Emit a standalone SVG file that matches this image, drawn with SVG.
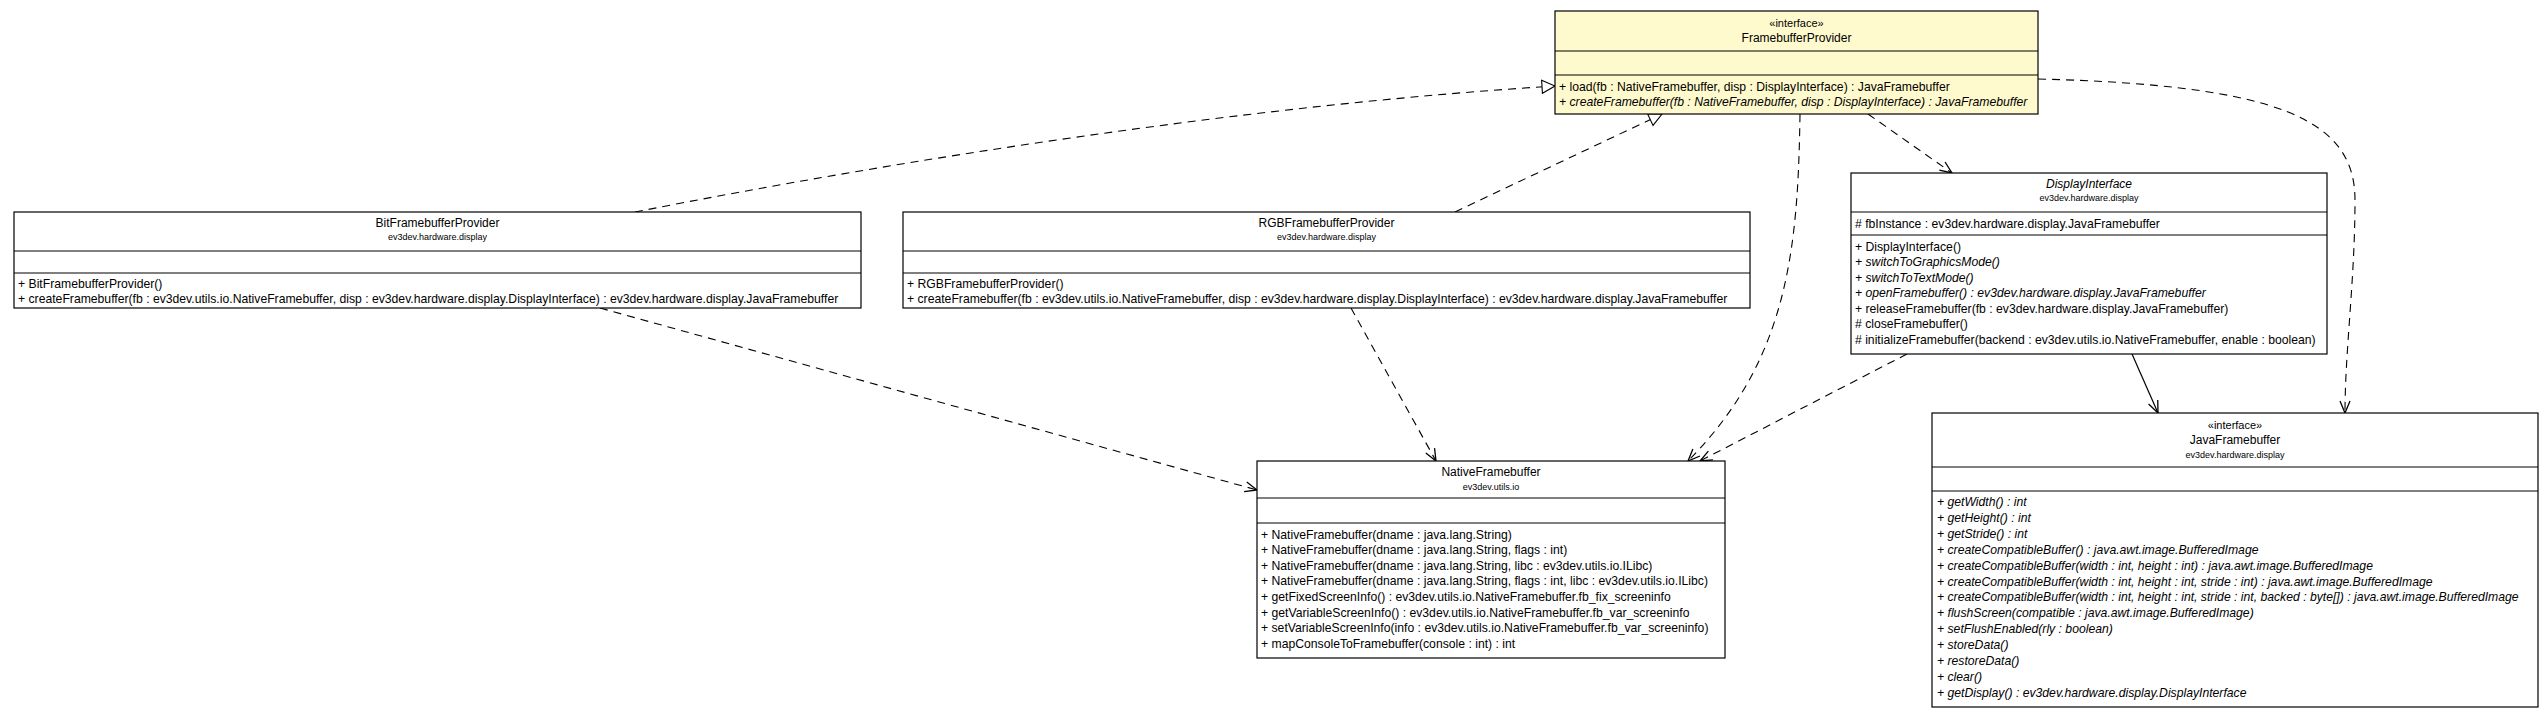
<svg xmlns="http://www.w3.org/2000/svg" width="2543" height="717" viewBox="0 0 2543 717">
<style>
.box{fill:#fff;stroke:#000;stroke-width:1.2}
.fp{fill:#FFFACD}
.sep{stroke:#000;stroke-width:1.2}
text{font-family:"Liberation Sans",Arial,sans-serif;fill:#000}
.nm{font-size:12px;text-anchor:middle}
.pk{font-size:9px;text-anchor:middle}
.st{font-size:11px;text-anchor:middle}
.m{font-size:12.2px}
.i{font-style:italic}
.dash{fill:none;stroke:#000;stroke-width:1.1;stroke-dasharray:8,6}
.solid{fill:none;stroke:#000;stroke-width:1.2}
</style>
<defs>
<marker id="open" markerWidth="14" markerHeight="12" refX="12" refY="5" orient="auto" markerUnits="userSpaceOnUse" overflow="visible"><path d="M0,0 L12,5 L0,10" fill="none" stroke="#000" stroke-width="1.3"/></marker>
<marker id="tri" markerWidth="15" markerHeight="15" refX="13" refY="6.5" orient="auto" markerUnits="userSpaceOnUse" overflow="visible"><path d="M0,0 L13,6.5 L0,13 Z" fill="#fff" stroke="#000" stroke-width="1.1"/></marker>
</defs>
<rect width="2543" height="717" fill="#fff"/>

<g id="connectors">
<path class="dash" d="M635,212 C900,160 1250,105 1555,86" marker-end="url(#tri)"/>
<path class="dash" d="M1455,212 L1662,114" marker-end="url(#tri)"/>
<path class="dash" d="M600,308 L1257,490" marker-end="url(#open)"/>
<path class="dash" d="M1351,308 L1436,461" marker-end="url(#open)"/>
<path class="dash" d="M1800,114 C1798,250 1788,360 1688,461" marker-end="url(#open)"/>
<path class="dash" d="M1868,114 L1952,173" marker-end="url(#open)"/>
<path class="dash" d="M2038,79 C2280,85 2355,120 2355,200 C2355,280 2345,350 2345,413" marker-end="url(#open)"/>
<path class="dash" d="M1907,354 L1700,461" marker-end="url(#open)"/>
<path class="solid" d="M2132,354 L2158,413" marker-end="url(#open)"/>
</g>

<g id="FramebufferProvider">
<rect class="box fp" x="1555" y="11" width="483" height="103"/>
<line class="sep" x1="1555" y1="51" x2="2038" y2="51"/>
<line class="sep" x1="1555" y1="75" x2="2038" y2="75"/>
<text class="st" x="1796.5" y="26.5">«interface»</text>
<text class="nm" x="1796.5" y="42">FramebufferProvider</text>
<text class="m" x="1559" y="90.5">+ load(fb : NativeFramebuffer, disp : DisplayInterface) : JavaFramebuffer</text>
<text class="m i" x="1559" y="106">+ createFramebuffer(fb : NativeFramebuffer, disp : DisplayInterface) : JavaFramebuffer</text>
</g>

<g id="BitFramebufferProvider">
<rect class="box" x="14" y="212" width="847" height="96"/>
<line class="sep" x1="14" y1="251" x2="861" y2="251"/>
<line class="sep" x1="14" y1="273" x2="861" y2="273"/>
<text class="nm" x="437.5" y="227">BitFramebufferProvider</text>
<text class="pk" x="437.5" y="239.5">ev3dev.hardware.display</text>
<text class="m" x="18" y="288">+ BitFramebufferProvider()</text>
<text class="m" x="18" y="303">+ createFramebuffer(fb : ev3dev.utils.io.NativeFramebuffer, disp : ev3dev.hardware.display.DisplayInterface) : ev3dev.hardware.display.JavaFramebuffer</text>
</g>

<g id="RGBFramebufferProvider">
<rect class="box" x="903" y="212" width="847" height="96"/>
<line class="sep" x1="903" y1="251" x2="1750" y2="251"/>
<line class="sep" x1="903" y1="273" x2="1750" y2="273"/>
<text class="nm" x="1326.5" y="227">RGBFramebufferProvider</text>
<text class="pk" x="1326.5" y="239.5">ev3dev.hardware.display</text>
<text class="m" x="907" y="288">+ RGBFramebufferProvider()</text>
<text class="m" x="907" y="303">+ createFramebuffer(fb : ev3dev.utils.io.NativeFramebuffer, disp : ev3dev.hardware.display.DisplayInterface) : ev3dev.hardware.display.JavaFramebuffer</text>
</g>

<g id="DisplayInterface">
<rect class="box" x="1851" y="173" width="476" height="181"/>
<line class="sep" x1="1851" y1="212" x2="2327" y2="212"/>
<line class="sep" x1="1851" y1="235" x2="2327" y2="235"/>
<text class="nm i" x="2089" y="188">DisplayInterface</text>
<text class="pk" x="2089" y="201">ev3dev.hardware.display</text>
<text class="m" x="1855" y="227.5"># fbInstance : ev3dev.hardware.display.JavaFramebuffer</text>
<text class="m" x="1855" y="250.5">+ DisplayInterface()</text>
<text class="m i" x="1855" y="266">+ switchToGraphicsMode()</text>
<text class="m i" x="1855" y="281.5">+ switchToTextMode()</text>
<text class="m i" x="1855" y="297">+ openFramebuffer() : ev3dev.hardware.display.JavaFramebuffer</text>
<text class="m" x="1855" y="312.5">+ releaseFramebuffer(fb : ev3dev.hardware.display.JavaFramebuffer)</text>
<text class="m" x="1855" y="328"># closeFramebuffer()</text>
<text class="m" x="1855" y="343.5"># initializeFramebuffer(backend : ev3dev.utils.io.NativeFramebuffer, enable : boolean)</text>
</g>

<g id="NativeFramebuffer">
<rect class="box" x="1257" y="461" width="468" height="197"/>
<line class="sep" x1="1257" y1="498" x2="1725" y2="498"/>
<line class="sep" x1="1257" y1="523" x2="1725" y2="523"/>
<text class="nm" x="1491" y="476">NativeFramebuffer</text>
<text class="pk" x="1491" y="489.5">ev3dev.utils.io</text>
<text class="m" x="1261" y="538.5">+ NativeFramebuffer(dname : java.lang.String)</text>
<text class="m" x="1261" y="554.1">+ NativeFramebuffer(dname : java.lang.String, flags : int)</text>
<text class="m" x="1261" y="569.7">+ NativeFramebuffer(dname : java.lang.String, libc : ev3dev.utils.io.ILibc)</text>
<text class="m" x="1261" y="585.3">+ NativeFramebuffer(dname : java.lang.String, flags : int, libc : ev3dev.utils.io.ILibc)</text>
<text class="m" x="1261" y="600.9">+ getFixedScreenInfo() : ev3dev.utils.io.NativeFramebuffer.fb_fix_screeninfo</text>
<text class="m" x="1261" y="616.5">+ getVariableScreenInfo() : ev3dev.utils.io.NativeFramebuffer.fb_var_screeninfo</text>
<text class="m" x="1261" y="632.1">+ setVariableScreenInfo(info : ev3dev.utils.io.NativeFramebuffer.fb_var_screeninfo)</text>
<text class="m" x="1261" y="647.7">+ mapConsoleToFramebuffer(console : int) : int</text>
</g>

<g id="JavaFramebuffer">
<rect class="box" x="1932" y="413" width="606" height="294"/>
<line class="sep" x1="1932" y1="467" x2="2538" y2="467"/>
<line class="sep" x1="1932" y1="491" x2="2538" y2="491"/>
<text class="st" x="2235" y="428.5">«interface»</text>
<text class="nm" x="2235" y="444">JavaFramebuffer</text>
<text class="pk" x="2235" y="457.5">ev3dev.hardware.display</text>
<text class="m i" x="1937" y="506">+ getWidth() : int</text>
<text class="m i" x="1937" y="521.9">+ getHeight() : int</text>
<text class="m i" x="1937" y="537.8">+ getStride() : int</text>
<text class="m i" x="1937" y="553.7">+ createCompatibleBuffer() : java.awt.image.BufferedImage</text>
<text class="m i" x="1937" y="569.6">+ createCompatibleBuffer(width : int, height : int) : java.awt.image.BufferedImage</text>
<text class="m i" x="1937" y="585.5">+ createCompatibleBuffer(width : int, height : int, stride : int) : java.awt.image.BufferedImage</text>
<text class="m i" x="1937" y="601.4">+ createCompatibleBuffer(width : int, height : int, stride : int, backed : byte[]) : java.awt.image.BufferedImage</text>
<text class="m i" x="1937" y="617.3">+ flushScreen(compatible : java.awt.image.BufferedImage)</text>
<text class="m i" x="1937" y="633.2">+ setFlushEnabled(rly : boolean)</text>
<text class="m i" x="1937" y="649.1">+ storeData()</text>
<text class="m i" x="1937" y="665">+ restoreData()</text>
<text class="m i" x="1937" y="680.9">+ clear()</text>
<text class="m i" x="1937" y="696.8">+ getDisplay() : ev3dev.hardware.display.DisplayInterface</text>
</g>
</svg>
